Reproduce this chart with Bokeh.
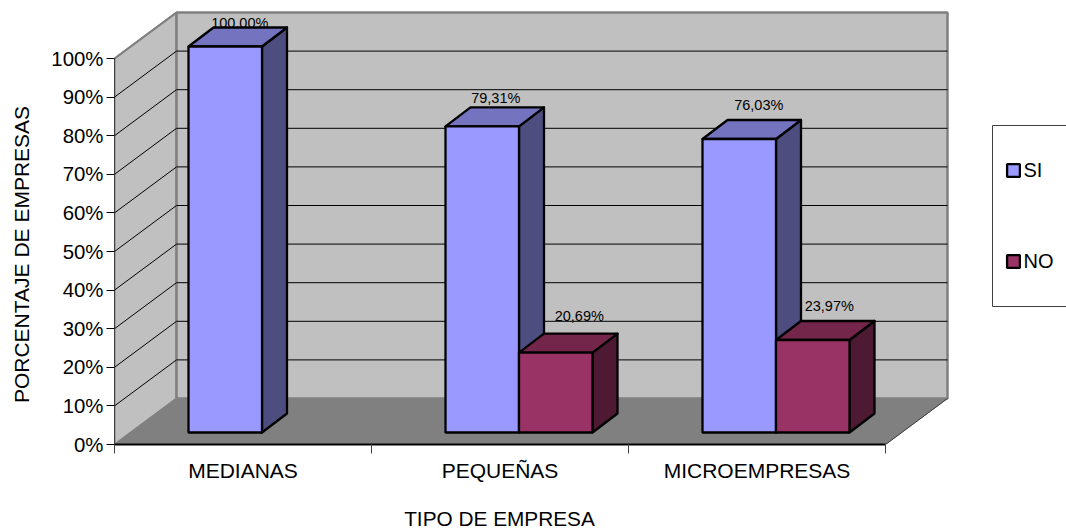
from bokeh.core.properties import value
from bokeh.embed import file_html
from bokeh.models import ColumnDataSource, FixedTicker, Label, LinearAxis, Range1d
from bokeh.plotting import figure
from bokeh.resources import INLINE

# Survey results by company type, in percent
categories = ["MEDIANAS", "PEQUEÑAS", "MICROEMPRESAS"]
si_values = [100.00, 79.31, 76.03]
no_values = [None, 20.69, 23.97]
si_labels = ["100,00%", "79,31%", "76,03%"]
no_labels = [None, "20,69%", "23,97%"]
percent_ticks = [0, 10, 20, 30, 40, 50, 60, 70, 80, 90, 100]
percent_tick_labels = ["0%", "10%", "20%", "30%", "40%", "50%", "60%", "70%", "80%", "90%", "100%"]
series_names = ["SI", "NO"]

# Scale: one category is 257 px wide, one percent is 3.86 px tall
PX_X = 257.0
PX_Y = 3.86
LEFT, BOTTOM, TOP, WIDTH, HEIGHT = 114, 444, 5, 1066, 529


def dx(px):
    return px / PX_X


def dy(px):
    return px / PX_Y


def sx(px):
    return (px - LEFT) / PX_X


def sy(px):
    return (BOTTOM - px) / PX_Y


# Oblique projection of the walls and the bars
WALL_DX, WALL_DY = dx(62), dy(46)
BAR_DX, BAR_DY = dx(25), dy(19)
BAR_WIDTH = dx(73.5)
BAR_BASE = dy(12)
BAR_START = dx(74)

FONT = "Liberation Sans"
SI_FACES = ("#9999FF", "#7373BF", "#4D4D80")
NO_FACES = ("#993366", "#732649", "#4D1933")

p = figure(
    width=WIDTH, height=HEIGHT, output_backend="svg", toolbar_location=None,
    x_range=Range1d(0, (WIDTH - LEFT) / PX_X), y_range=Range1d(0, (BOTTOM - TOP) / PX_Y),
    x_axis_type=None, y_axis_type=None,
    min_border_left=LEFT, min_border_right=0, min_border_top=TOP, min_border_bottom=HEIGHT - BOTTOM,
    outline_line_color=None, background_fill_color="white", border_fill_color="white",
)
p.grid.visible = False

n_cat = len(categories)
y_max = percent_ticks[-1]

# Left wall and back wall
p.patch([0, WALL_DX, WALL_DX, 0], [0, WALL_DY, y_max + WALL_DY, y_max],
        fill_color="#C0C0C0", line_color="#808080", line_width=2)
p.patch([WALL_DX, n_cat + WALL_DX, n_cat + WALL_DX, WALL_DX],
        [WALL_DY, WALL_DY, y_max + WALL_DY, y_max + WALL_DY],
        fill_color="#C0C0C0", line_color="#808080", line_width=2.5)

# Gridlines across both walls
grid_ticks = percent_ticks[1:-1]
p.multi_line(
    xs=[[0, WALL_DX, n_cat + WALL_DX] for _ in grid_ticks],
    ys=[[t, t + WALL_DY, t + WALL_DY] for t in grid_ticks],
    line_color="#000000", line_width=1,
)
p.line([0, WALL_DX], [y_max, y_max + WALL_DY], line_color="#808080", line_width=2)

# Floor
p.patch([0, n_cat, n_cat + WALL_DX, WALL_DX], [0, 0, WALL_DY, WALL_DY],
        fill_color="#808080", line_color="#808080", line_width=1)
p.line([n_cat, n_cat + WALL_DX], [0, WALL_DY], line_color="#404040", line_width=1)


def draw_series(values, series_index, faces, name):
    front_l, front_r, front_t = [], [], []
    side_x, side_y, top_x, top_y = [], [], [], []
    for i, v in enumerate(values):
        if v is None:
            continue
        left = i + BAR_START + series_index * BAR_WIDTH
        right = left + BAR_WIDTH
        top = BAR_BASE + v
        front_l.append(left)
        front_r.append(right)
        front_t.append(top)
        side_x.append([right, right + BAR_DX, right + BAR_DX, right])
        side_y.append([BAR_BASE, BAR_BASE + BAR_DY, top + BAR_DY, top])
        top_x.append([left, left + BAR_DX, right + BAR_DX, right])
        top_y.append([top, top + BAR_DY, top + BAR_DY, top])
    p.patches(side_x, side_y, fill_color=faces[2], line_color="#000000", line_width=2.3, line_join="round")
    p.patches(top_x, top_y, fill_color=faces[1], line_color="#000000", line_width=2.3, line_join="round")
    p.quad(left=front_l, right=front_r, bottom=BAR_BASE, top=front_t, fill_color=faces[0],
           line_color="#000000", line_width=2.3, legend_label=name)


# Value labels sit above each bar, with a small offset per label
si_nudge = [(2, 5), (1, 9), (7, 15)]
no_nudge = [None, (11, 18), (4, 14.5)]


def label_source(values, labels, series_index, nudges):
    xs, ys, texts = [], [], []
    for i, v in enumerate(values):
        if v is None:
            continue
        xs.append(i + BAR_START + (series_index + 0.5) * BAR_WIDTH + BAR_DX / 2 + dx(nudges[i][0]))
        ys.append(BAR_BASE + v + BAR_DY + dy(nudges[i][1]))
        texts.append(labels[i])
    return ColumnDataSource(dict(x=xs, y=ys, text=texts))


for src in (label_source(si_values, si_labels, 0, si_nudge), label_source(no_values, no_labels, 1, no_nudge)):
    p.text("x", "y", "text", source=src, text_font=value(FONT), text_font_size="14.5px",
           text_color="#000000", text_align="center", text_baseline="middle")

draw_series(si_values, 0, SI_FACES, series_names[0])
draw_series(no_values, 1, NO_FACES, series_names[1])

# Legend frame, running off the right edge of the page
p.quad(left=[sx(992)], right=[sx(1090)], bottom=[sy(306)], top=[sy(125)],
       fill_color="#FFFFFF", line_color="#404040", line_width=1, level="underlay")

legend = p.legend[0]
legend.location = (1004.5 - LEFT, BOTTOM - 272.5)
legend.background_fill_alpha = 0
legend.border_line_alpha = 0
legend.padding = 0
legend.margin = 0
legend.spacing = 68
legend.glyph_width = 16
legend.glyph_height = 16
legend.label_height = 16
legend.label_standoff = 3
legend.label_text_font = FONT
legend.label_text_font_size = "20px"
legend.label_text_color = "#000000"

# Axes along the front edge
y_axis = LinearAxis(
    ticker=FixedTicker(ticks=percent_ticks),
    major_label_overrides={t: s for t, s in zip(percent_ticks, percent_tick_labels)},
    bounds=(0, y_max), axis_line_color="#404040", axis_line_width=1,
    major_tick_line_color="#000000", major_tick_out=8, major_tick_in=0, minor_tick_out=0,
    major_label_text_font=FONT, major_label_text_font_size="20.4px",
    major_label_text_color="#000000", major_label_standoff=3,
)
p.add_layout(y_axis, "left")

x_axis = LinearAxis(
    ticker=FixedTicker(ticks=[i + 0.5 for i in range(n_cat)], minor_ticks=list(range(n_cat + 1))),
    major_label_overrides={i + 0.5: c for i, c in enumerate(categories)},
    bounds=(0, n_cat), axis_line_color="#000000", axis_line_width=2,
    major_tick_line_color=None, major_tick_out=0, major_tick_in=0,
    minor_tick_line_color="#404040", minor_tick_out=9, minor_tick_in=0,
    major_label_text_font=FONT, major_label_text_font_size="21px",
    major_label_text_color="#000000", major_label_standoff=5,
)
p.add_layout(x_axis, "below")

# Axis titles, centred on the drawn length of each axis
p.add_layout(Label(x=385, y=-11, x_units="screen", y_units="screen", text="TIPO DE EMPRESA",
                   text_font=FONT, text_font_size="20.8px", text_color="#000000",
                   text_align="center", text_baseline="middle"), "below")
p.add_layout(Label(x=-4, y=190, x_units="screen", y_units="screen", text="PORCENTAJE DE EMPRESAS",
                   text_font=FONT, text_font_size="21px", text_color="#000000",
                   text_align="center", text_baseline="middle",
                   angle=90, angle_units="deg"), "left")

open("out.html", "w").write(file_html(p, INLINE))
